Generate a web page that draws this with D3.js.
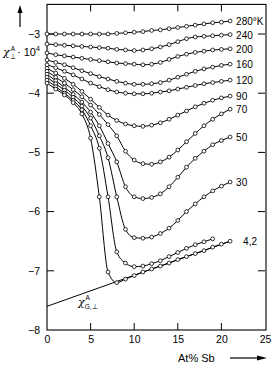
<!DOCTYPE html>
<html><head><meta charset="utf-8">
<script src="https://cdn.jsdelivr.net/npm/d3@7"></script>
<style>
html,body{margin:0;padding:0;background:#fff;}
svg{display:block;font-family:"Liberation Sans",Arial,sans-serif;}
</style></head>
<body>
<script>
// composition (At% Sb) of measured points
const comp = [0,1,2,3,4,5,6,7,8,9,10,11,12,13,14,15,16,17,18,19,20,21];
const temps = ["280°K","240","200","160","120","90","70","50","30","","4,2"];
const s280 = [-3.0,-3.0,-3.0,-3.0,-3.0,-3.0,-3.0,-3.0,-2.99,-2.98,-2.97,-2.96,-2.94,-2.93,-2.91,-2.89,-2.87,-2.85,-2.83,-2.81,-2.8,-2.78];
const s240 = [-3.17,-3.18,-3.19,-3.2,-3.21,-3.22,-3.23,-3.24,-3.26,-3.27,-3.28,-3.27,-3.25,-3.22,-3.18,-3.13,-3.08,-3.05,-3.04,-3.03,-3.02,-3.01];
const s200 = [-3.32,-3.35,-3.37,-3.39,-3.41,-3.43,-3.45,-3.47,-3.49,-3.5,-3.51,-3.52,-3.51,-3.48,-3.43,-3.38,-3.34,-3.31,-3.29,-3.27,-3.26,-3.25];
const s160 = [-3.44,-3.48,-3.52,-3.57,-3.62,-3.67,-3.72,-3.76,-3.8,-3.83,-3.85,-3.85,-3.84,-3.82,-3.78,-3.73,-3.68,-3.63,-3.59,-3.56,-3.53,-3.51];
const s120 = [-3.52,-3.57,-3.63,-3.69,-3.76,-3.83,-3.89,-3.94,-3.98,-4.0,-4.01,-4.01,-4.0,-3.98,-3.96,-3.93,-3.9,-3.87,-3.84,-3.82,-3.8,-3.78];
const s90 = [-3.58,-3.66,-3.75,-3.85,-3.97,-4.1,-4.24,-4.37,-4.46,-4.52,-4.55,-4.56,-4.54,-4.5,-4.44,-4.37,-4.3,-4.23,-4.17,-4.12,-4.08,-4.05];
const s70 = [-3.63,-3.73,-3.83,-3.94,-4.06,-4.2,-4.36,-4.53,-4.72,-4.98,-5.13,-5.19,-5.2,-5.16,-5.08,-4.96,-4.82,-4.68,-4.55,-4.44,-4.35,-4.27];
const s50 = [-3.68,-3.79,-3.9,-4.02,-4.15,-4.32,-4.55,-4.85,-5.16,-5.58,-5.75,-5.78,-5.76,-5.7,-5.58,-5.42,-5.25,-5.1,-4.98,-4.87,-4.8,-4.74];
const s30 = [-3.73,-3.84,-3.95,-4.07,-4.22,-4.42,-4.72,-5.09,-5.75,-6.3,-6.44,-6.45,-6.43,-6.37,-6.28,-6.15,-6.0,-5.87,-5.75,-5.65,-5.57,-5.5];
const s15 = [-3.78,-3.89,-4.0,-4.12,-4.28,-4.55,-4.93,-5.75,-6.68,-6.87,-6.93,-6.92,-6.88,-6.83,-6.76,-6.69,-6.62,-6.56,-6.51,-6.46];
const s4 = [-3.83,-3.93,-4.03,-4.16,-4.35,-4.76,-5.75,-7.02,-7.2,-7.14,-7.08,-7.02,-6.97,-6.92,-6.87,-6.81,-6.76,-6.71,-6.66,-6.6,-6.55,-6.5];
const seriesList = [s280,s240,s200,s160,s120,s90,s70,s50,s30,s15,s4];
// chi_G line (end points)
const gLineX = [0,21];
const gLineY = [-7.6,-6.5];
const xTicks = [0,5,10,15,20,25];
const yTicks = [-3,-4,-5,-6,-7,-8];

const W=273,H=365;
const svg=d3.select("body").append("svg").attr("width",W).attr("height",H);
const x=d3.scaleLinear().domain([0,25]).range([47,265]);
const y=d3.scaleLinear().domain([-8,-2.5]).range([330,4.4]);

// frame
svg.append("rect").attr("x",x(0)).attr("y",y(-2.5)).attr("width",x(25)-x(0)+1).attr("height",y(-8)-y(-2.5))
  .attr("fill","none").attr("stroke","#000").attr("stroke-width",1.1);

// axes
const fmt=d=>d<0?"\u2212"+Math.abs(d):String(d);
const bottom=svg.append("g").attr("transform",`translate(0,${y(-8)})`)
  .call(d3.axisBottom(x).tickValues(xTicks).tickSize(0).tickPadding(6).tickFormat(d=>d));
const left=svg.append("g").attr("transform",`translate(${x(0)},0)`)
  .call(d3.axisLeft(y).tickValues(yTicks).tickSize(0).tickPadding(7).tickFormat(fmt));
[bottom,left].forEach(g=>{g.select(".domain").remove();g.selectAll("text").attr("font-size",10.5).attr("fill","#000").attr("font-family","Liberation Sans, Arial, sans-serif");});
// inward ticks
const tk=svg.append("g").attr("stroke","#000").attr("stroke-width",1);
xTicks.filter(d=>d>0&&d<25).forEach(d=>{
  tk.append("line").attr("x1",x(d)).attr("x2",x(d)).attr("y1",y(-8)).attr("y2",y(-8)-7);
  tk.append("line").attr("x1",x(d)).attr("x2",x(d)).attr("y1",y(-2.5)).attr("y2",y(-2.5)+7);
});
yTicks.filter(d=>d>-8).forEach(d=>{
  tk.append("line").attr("x1",x(0)).attr("x2",x(0)+7).attr("y1",y(d)).attr("y2",y(d));
  tk.append("line").attr("x1",x(25)).attr("x2",x(25)-7).attr("y1",y(d)).attr("y2",y(d));
});

// chi_G line
svg.append("line").attr("x1",x(gLineX[0])).attr("y1",y(gLineY[0])).attr("x2",x(gLineX[1])).attr("y2",y(gLineY[1]))
  .attr("stroke","#000").attr("stroke-width",1);

const line=d3.line().x((d,i)=>x(comp[i])).y(d=>y(d)).curve(d3.curveMonotoneX);
seriesList.forEach((s,k)=>{
  svg.append("path").attr("d",line(s)).attr("fill","none").attr("stroke","#000").attr("stroke-width",1);
  svg.append("g").selectAll("circle").data(s).join("circle")
    .attr("cx",(d,i)=>x(comp[i])).attr("cy",d=>y(d)).attr("r",1.9)
    .attr("fill","#fff").attr("stroke","#000").attr("stroke-width",0.8);
  if(temps[k]){
    const n=s.length-1;
    svg.append("text").attr("x",x(comp[n])+(k===10?13:6)).attr("y",y(s[n])+4)
      .attr("font-size",10).text(temps[k]);
  }
});

// y label
const yl=svg.append("text").attr("x",3).attr("y",56).attr("font-size",11);
yl.append("tspan").attr("font-family","DejaVu Serif, serif").attr("font-style","italic").text("\u03c7");
yl.append("tspan").attr("font-size",7).attr("dy",3).text("\u22a5");
yl.append("tspan").attr("font-size",6.5).attr("dy",-8).attr("dx",-5).text("A");
yl.append("tspan").attr("font-size",11).attr("dy",5).attr("dx",2).text("\u00b7 10");
yl.append("tspan").attr("font-size",7).attr("dy",-5).text("4");
// up arrow
svg.append("line").attr("x1",20).attr("x2",20).attr("y1",27).attr("y2",12).attr("stroke","#000").attr("stroke-width",1.2);
svg.append("path").attr("d","M20,5 L17.5,13 L22.5,13 Z").attr("fill","#000");

// chi_G label
const gl=svg.append("text").attr("x",78).attr("y",306).attr("font-size",11);
gl.append("tspan").attr("font-family","DejaVu Serif, serif").attr("font-style","italic").text("\u03c7");
gl.append("tspan").attr("font-size",6.5).attr("dy",3).text("G,\u22a5");
gl.append("tspan").attr("font-size",6.5).attr("dy",-9).attr("dx",-12).text("A");

// x label
svg.append("text").attr("x",178).attr("y",362).attr("font-size",11).text("At% Sb");
svg.append("line").attr("x1",230).attr("x2",258).attr("y1",358).attr("y2",358).attr("stroke","#000").attr("stroke-width",1.2);
svg.append("path").attr("d","M267,358 L257,355.5 L257,360.5 Z").attr("fill","#000");
</script>
</body></html>
